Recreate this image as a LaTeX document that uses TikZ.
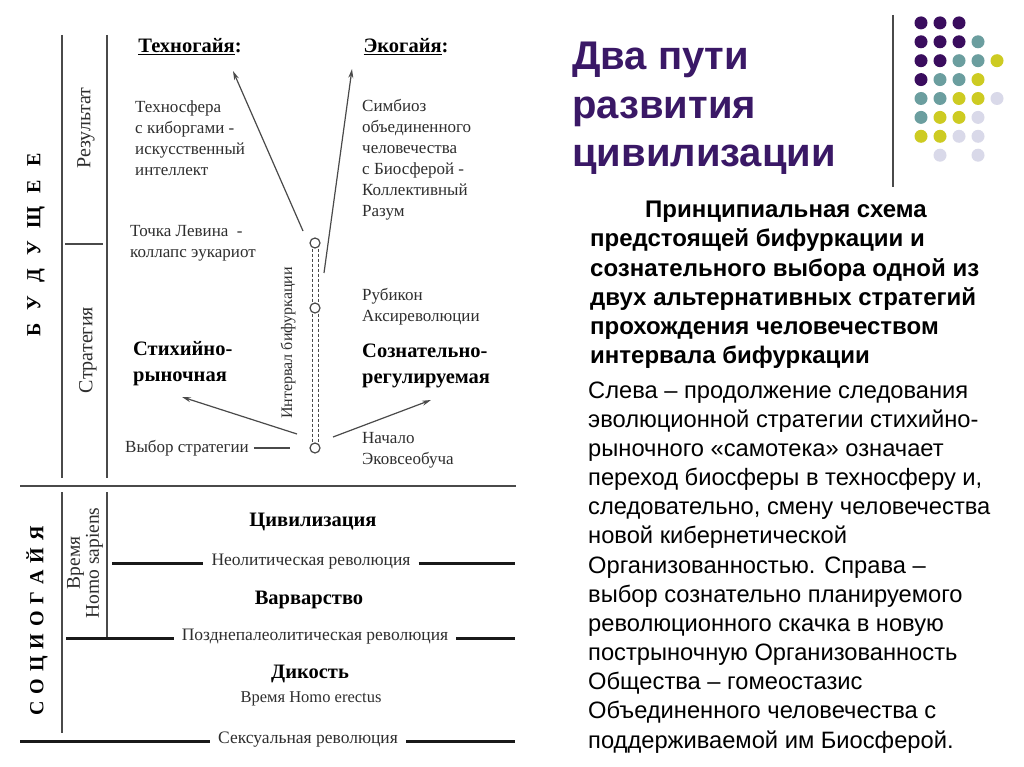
\documentclass[tikz,border=0pt]{standalone}
\usepackage{fontspec}
\setmainfont{Liberation Serif}
\newfontfamily\arialf{Liberation Sans}
\usetikzlibrary{arrows.meta}
\definecolor{dpurple}{HTML}{3A0D5E}
\definecolor{tealc}{HTML}{6B9E9F}
\definecolor{yelc}{HTML}{CDCB22}
\definecolor{lavc}{HTML}{D9D9E9}
\definecolor{ttl}{HTML}{3A1866}
\definecolor{ink}{HTML}{2E2E2E}
\definecolor{linec}{HTML}{4A4A4A}
\tikzset{
  lbl/.style={font=\fontsize{17}{21}\selectfont, text=ink, inner sep=0pt, align=left, anchor=west},
  big/.style={font=\fontsize{20.5}{26}\selectfont\bfseries, text=black, inner sep=0pt, align=left, anchor=west},
  rot/.style={font=\fontsize{20}{22}\selectfont, text=ink, inner sep=0pt, rotate=90, align=center},
  rev/.style={font=\fontsize{17.5}{20}\selectfont, text=ink, inner ysep=0pt, inner xsep=8pt},
  era/.style={font=\fontsize{20.5}{24}\selectfont\bfseries, text=black, inner sep=0pt},
  vline/.style={draw=linec, line width=1.8pt},
  hthick/.style={draw=black!90, line width=3pt},
  arr/.style={draw=linec, line width=1.2pt, -{Stealth[length=9pt,width=5pt]}},
  ring/.style={circle, draw=linec, line width=1.2pt, fill=white, minimum size=10pt, inner sep=0pt},
  bodyt/.style={font=\arialf\fontsize{23.7}{29}\selectfont, text=black, inner sep=0pt, anchor=base west},
  boldt/.style={font=\arialf\fontsize{24}{29}\selectfont\bfseries, text=black, inner sep=0pt, anchor=base west},
}
\begin{document}
\begin{tikzpicture}[x=1pt,y=-1pt]
\useasboundingbox[fill=white] (0,0) rectangle (1024,767);

% ---------- upper frame ----------
\coordinate (vo1) at (62,35);  \coordinate (vo2) at (62,478);
\coordinate (vi1) at (107,35); \coordinate (vi2) at (107,478);
\coordinate (hs1) at (65,244); \coordinate (hs2) at (103,244);
\draw[vline] (vo1) -- (vo2);
\draw[vline] (vi1) -- (vi2);
\draw[vline] (hs1) -- (hs2);
\coordinate (sep1) at (20,486); \coordinate (sep2) at (516,486);
\draw[vline] (sep1) -- (sep2);

\node[rot, font=\fontsize{20}{22}\selectfont\bfseries, text=black] (bud) at (36,245) {Б\hspace{13pt}У\hspace{13pt}Д\hspace{13pt}У\hspace{13pt}Щ\hspace{13pt}Е\hspace{13pt}Е};
\node[rot] (res) at (86,128) {Результат};
\node[rot] (str) at (88,350) {Стратегия};

% ---------- bifurcation ----------
\node[ring] (c1) at (315,243) {};
\node[ring] (c2) at (315,308) {};
\node[ring] (c3) at (315,448) {};
\draw[linec, line width=1pt, dash pattern=on 3pt off 2pt] ([xshift=-3pt]c1.south) -- ([xshift=-3pt]c2.north);
\draw[linec, line width=1pt, dash pattern=on 3pt off 2pt] ([xshift=3pt]c1.south) -- ([xshift=3pt]c2.north);
\draw[linec, line width=1pt, dash pattern=on 3pt off 2pt] ([xshift=-3pt]c2.south) -- ([xshift=-3pt]c3.north);
\draw[linec, line width=1pt, dash pattern=on 3pt off 2pt] ([xshift=3pt]c2.south) -- ([xshift=3pt]c3.north);
\node[rot, font=\fontsize{16}{18}\selectfont] (intv) at (288,343) {Интервал бифуркации};

\node[era] (tech) at (190,47) {\underline{Техногайя}:};
\node[era] (eco) at (406,47) {\underline{Экогайя}:};

\coordinate (t0) at (303,231); \coordinate (t1) at (233,71);
\coordinate (e0) at (324,273); \coordinate (e1) at (352,69);
\coordinate (l0) at (297,434); \coordinate (l1) at (182,397);
\coordinate (r0) at (333,437); \coordinate (r1) at (431,400);
\draw[arr] (t0) -- (t1);
\draw[arr] (e0) -- (e1);
\draw[arr] (l0) -- (l1);
\draw[arr] (r0) -- (r1);

\node[lbl] (tsf) at (135,138) {Техносфера\\с киборгами -\\искусственный\\интеллект};
\node[lbl] (lev) at (130,243) {Точка Левина \ -\\коллапс эукариот};
\node[big] (stx) at (133,364) {Стихийно-\\рыночная};
\node[lbl] (vyb) at (125,448) {Выбор стратегии};
\coordinate (vd) at (290,448);
\draw[linec, line width=1.2pt] ([xshift=5pt]vyb.east) -- (vd);

\node[lbl] (sim) at (362,160) {Симбиоз\\объединенного\\человечества\\с Биосферой -\\Коллективный\\Разум};
\node[lbl] (rub) at (362,307) {Рубикон\\Аксиреволюции};
\node[big] (soz) at (362,366) {Сознательно-\\регулируемая};
\node[lbl] (nach) at (362,450) {Начало\\Эковсеобуча};

% ---------- lower frame ----------
\coordinate (lo1) at (62,492); \coordinate (lo2) at (62,733);
\coordinate (li1) at (107,492); \coordinate (li2) at (107,637);
\draw[vline] (lo1) -- (lo2);
\draw[vline] (li1) -- (li2);

\node[rot, font=\fontsize{20}{22}\selectfont\bfseries, text=black] (soc) at (37,621) {С\hspace{7pt}О\hspace{7pt}Ц\hspace{7pt}И\hspace{7pt}О\hspace{7pt}Г\hspace{7pt}А\hspace{7pt}Й\hspace{7pt}Я};
\node[rot, font=\fontsize{19.5}{19}\selectfont] (hs) at (85,563) {Время\\Homo sapiens};

\node[era] (civ) at (313,522) {Цивилизация};
\node[rev] (neo) at (311,562) {Неолитическая революция};
\node[era] (var) at (309,600) {Варварство};
\node[rev] (pal) at (315,637) {Позднепалеолитическая революция};
\node[era] (dik) at (310,674) {Дикость};
\node[rev, font=\fontsize{16.5}{20}\selectfont] (erec) at (311,699) {Время Homo erectus};
\node[rev] (sex) at (308,740) {Сексуальная революция};

\coordinate (n1) at (112,563); \coordinate (n2) at (515,563);
\coordinate (p1) at (66,638);  \coordinate (p2) at (515,638);
\coordinate (s1) at (20,741);  \coordinate (s2) at (515,741);
\draw[hthick] (n1) -- (neo.west |- n1);
\draw[hthick] (neo.east |- n2) -- (n2);
\draw[hthick] (p1) -- (pal.west |- p1);
\draw[hthick] (pal.east |- p2) -- (p2);
\draw[hthick] (s1) -- (sex.west |- s1);
\draw[hthick] (sex.east |- s2) -- (s2);

% ---------- right side ----------
\coordinate (dv1) at (893,15); \coordinate (dv2) at (893,187);
\draw[draw=linec, line width=1.5pt] (dv1) -- (dv2);
\foreach \c/\r/\col in {1/1/dpurple,2/1/dpurple,3/1/dpurple,
  1/2/dpurple,2/2/dpurple,3/2/dpurple,4/2/tealc,
  1/3/dpurple,2/3/dpurple,3/3/tealc,4/3/tealc,5/3/yelc,
  1/4/dpurple,2/4/tealc,3/4/tealc,4/4/yelc,
  1/5/tealc,2/5/tealc,3/5/yelc,4/5/yelc,5/5/lavc,
  1/6/tealc,2/6/yelc,3/6/yelc,4/6/lavc,
  1/7/yelc,2/7/yelc,3/7/lavc,4/7/lavc,
  2/8/lavc,4/8/lavc}
  \fill[\col] ({902+19*\c},{4+18.9*\r}) circle[radius=6.5pt];

\node[font=\arialf\fontsize{40}{48}\selectfont\bfseries, text=ttl, inner sep=0pt, anchor=base west] (t1n) at (572,70) {Два пути};
\node[font=\arialf\fontsize{40}{48}\selectfont\bfseries, text=ttl, inner sep=0pt, anchor=base west] (t2n) at (572,119) {развития};
\node[font=\arialf\fontsize{40}{48}\selectfont\bfseries, text=ttl, inner sep=0pt, anchor=base west] (t3n) at (572,167) {цивилизации};

\node[boldt] (b1) at (645,218) {Принципиальная схема};
\node[boldt] (b2) at (590,247) {предстоящей бифуркации и};
\node[boldt] (b3) at (590,276) {сознательного выбора одной из};
\node[boldt] (b4) at (590,305) {двух альтернативных стратегий};
\node[boldt] (b5) at (590,334) {прохождения человечеством};
\node[boldt] (b6) at (590,363) {интервала бифуркации};

\node[bodyt] (p1n) at (588,398) {Слева – продолжение следования};
\node[bodyt] (p2n) at (588,427.2) {эволюционной стратегии стихийно-};
\node[bodyt] (p3n) at (588,456.3) {рыночного «самотека» означает};
\node[bodyt] (p4n) at (588,485.5) {переход биосферы в техносферу и,};
\node[bodyt] (p5n) at (588,514.7) {следовательно, смену человечества};
\node[bodyt] (p6n) at (588,543.8) {новой кибернетической};
\node[bodyt] (p7n) at (588,573) {Организованностью. Справа –};
\node[bodyt] (p8n) at (588,602.2) {выбор сознательно планируемого};
\node[bodyt] (p9n) at (588,631.3) {революционного скачка в новую};
\node[bodyt] (p10n) at (588,660.5) {пострыночную Организованность};
\node[bodyt] (p11n) at (588,689.7) {Общества – гомеостазис};
\node[bodyt] (p12n) at (588,718.8) {Объединенного человечества с};
\node[bodyt] (p13n) at (588,748) {поддерживаемой им Биосферой.};
\end{tikzpicture}
\end{document}
